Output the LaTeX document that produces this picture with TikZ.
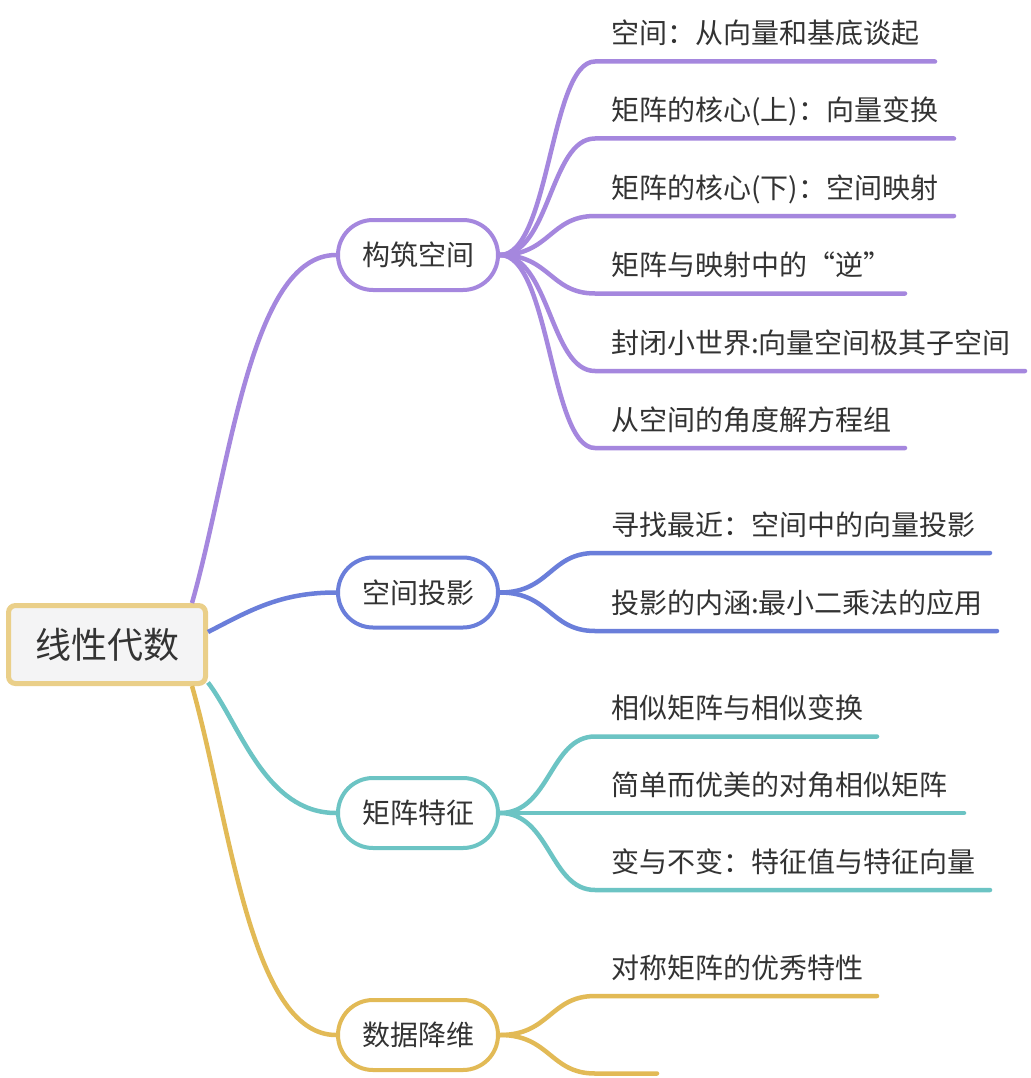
\documentclass[tikz,border=0pt]{standalone}
\usepackage{fontspec}
\setmainfont{Noto Sans CJK SC}
\usetikzlibrary{calc}
\definecolor{cpur}{RGB}{165,135,222}
\definecolor{cblu}{RGB}{106,126,218}
\definecolor{ctea}{RGB}{108,196,196}
\definecolor{cgol}{RGB}{226,186,86}
\definecolor{crootb}{RGB}{234,207,137}
\definecolor{crootf}{RGB}{244,244,245}
\definecolor{ctext}{RGB}{51,51,51}
\begin{document}
\begin{tikzpicture}[x=1pt,y=-1pt,
  rootnode/.style={draw=crootb, fill=crootf, line width=5pt, rounded corners=7pt,
    minimum width=197pt, minimum height=78pt, inner sep=0pt,
    font=\fontsize{36}{40}\selectfont, text=ctext},
  branchnode/.style={draw=#1, fill=white, line width=4pt, rounded corners=35pt,
    minimum width=160pt, minimum height=70pt, inner sep=0pt,
    font=\fontsize{28}{30}\selectfont, text=ctext},
  leafnode/.style={anchor=base west, inner sep=0pt,
    font=\fontsize{28}{30}\selectfont, text=ctext},
  rootcon/.style={line width=4.5pt},
  leafcon/.style={line width=4.5pt, line cap=round}]
\useasboundingbox[fill=white] (0,0) rectangle (1030,1078);

% root and branches
\node[rootnode] (root) at (107,644.5) {线性代数};
\node[branchnode=cpur] (b1) at (418,255) {构筑空间};
\node[branchnode=cblu] (b2) at (418,592.5) {空间投影};
\node[branchnode=ctea] (b3) at (418,813) {矩阵特征};
\node[branchnode=cgol] (b4) at (418,1035) {数据降维};

% leaf line coordinates
\foreach \n/\y/\e in {p1/61.5/935, p2/138.5/954, p3/216/954, p4/293.5/905, p5/371/1025, p6/448/905,
                      q1/553/990, q2/631/997,
                      t1/736.5/877, t2/813/964, t3/890/990,
                      g1/996/877, g2/1073.5/657}
  {\coordinate (\n s) at (595,\y); \coordinate (\n e) at (\e,\y);}

% leaf texts
\node[leafnode] (p1) at (611,43.5) {空间：从向量和基底谈起};
\node[leafnode] (p2) at (611,120.5) {矩阵的核心(上)：向量变换};
\node[leafnode] (p3) at (611,198) {矩阵的核心(下)：空间映射};
\node[leafnode] (p4) at (611,275.5) {矩阵与映射中的“逆”};
\node[leafnode] (p5) at (611,353) {封闭小世界:向量空间极其子空间};
\node[leafnode] (p6) at (611,430) {从空间的角度解方程组};
\node[leafnode] (q1) at (611,535) {寻找最近：空间中的向量投影};
\node[leafnode] (q2) at (611,613) {投影的内涵:最小二乘法的应用};
\node[leafnode] (t1) at (611,718.5) {相似矩阵与相似变换};
\node[leafnode] (t2) at (611,795) {简单而优美的对角相似矩阵};
\node[leafnode] (t3) at (611,872) {变与不变：特征值与特征向量};
\node[leafnode] (g1) at (611,978) {对称矩阵的优秀特性};

% root to branches
\draw[rootcon, cpur] ($(root.north east)+(-16,0)$) .. controls ($(root.north east)+(22,-133)$) and ($(b1.west)+(-86,0)$) .. (b1.west);
\draw[rootcon, cblu] ($(root.east)+(0,-12.5)$) .. controls ($(root.east)+(42,-34)$) and ($(b2.west)+(-56,0)$) .. (b2.west);
\draw[rootcon, ctea] ($(root.east)+(0,38)$) .. controls ($(root.east)+(32,80)$) and ($(b3.west)+(-71,0)$) .. (b3.west);
\draw[rootcon, cgol] ($(root.south east)+(-16,0)$) .. controls ($(root.south east)+(22,134)$) and ($(b4.west)+(-86,0)$) .. (b4.west);

% branches to leaves
\foreach \b/\l/\c in {b1/p1/cpur, b1/p2/cpur, b1/p3/cpur, b1/p4/cpur, b1/p5/cpur, b1/p6/cpur,
                      b2/q1/cblu, b2/q2/cblu,
                      b3/t1/ctea, b3/t2/ctea, b3/t3/ctea,
                      b4/g1/cgol, b4/g2/cgol}
  \draw[leafcon, \c] (\b.east) .. controls ($(\b.east)+(50,0)$) and ($(\l s)+(-45,0)$) .. (\l s) -- (\l e);
\end{tikzpicture}
\end{document}
